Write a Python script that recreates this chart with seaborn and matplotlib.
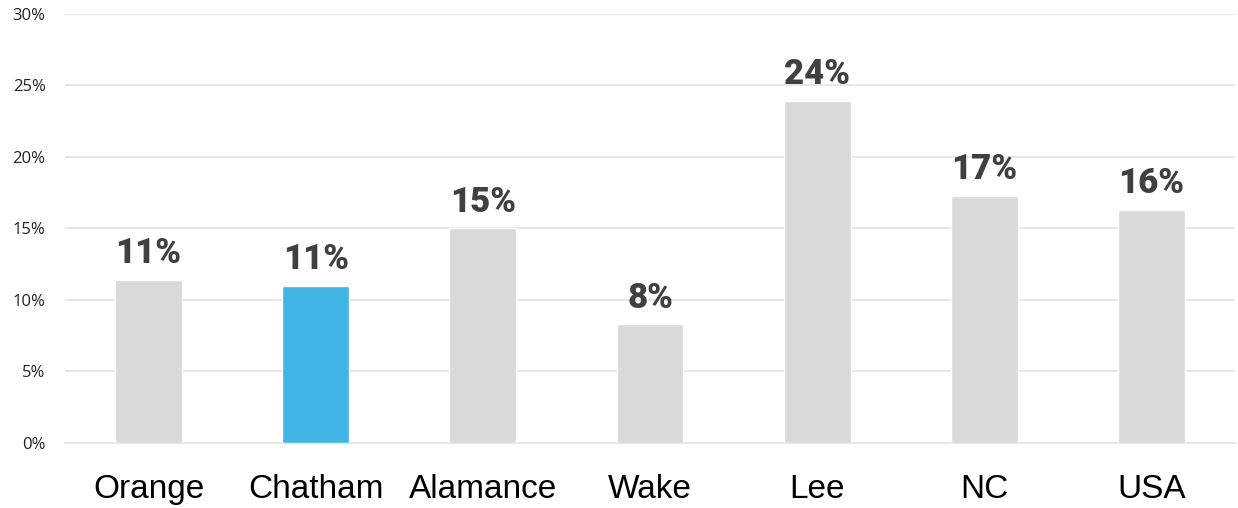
import pandas as pd
import seaborn as sns
import matplotlib.pyplot as plt
from matplotlib.ticker import PercentFormatter

counties = ["Orange", "Chatham", "Alamance", "Wake", "Lee", "NC", "USA"]
rates = [11.4, 11.0, 15.0, 8.3, 23.9, 17.3, 16.3]
labels = ["11%", "11%", "15%", "8%", "24%", "17%", "16%"]
highlight = "Chatham"

GRAY = "#d9d9d9"
BLUE = "#41b6e6"


def main():
    sns.set_theme(style="white")
    df = pd.DataFrame({"county": counties, "rate": rates})
    palette = {c: (BLUE if c == highlight else GRAY) for c in counties}

    fig = plt.figure(figsize=(12.38, 5.08), dpi=100)
    ax = fig.add_axes([0.0525, 0.128, 0.945, 0.8445])
    sns.barplot(data=df, x="county", y="rate", hue="county", palette=palette,
                width=0.4, legend=False, saturation=1, ax=ax, zorder=3)

    ax.set_ylim(0, 30)
    ax.set_xlim(-0.5, len(counties) - 0.5)
    ax.set_yticks(range(0, 31, 5))
    ax.yaxis.set_major_formatter(PercentFormatter(decimals=0))
    ax.grid(axis="y", color="#e3e3e3", linewidth=1.2, zorder=0)
    ax.grid(axis="x", visible=False)
    for s in ["left", "right", "top"]:
        ax.spines[s].set_visible(False)
    ax.spines["bottom"].set_color("#e3e3e3")
    ax.spines["bottom"].set_linewidth(1.2)
    ax.set_xlabel("")
    ax.set_ylabel("")

    ax.tick_params(axis="y", length=0, pad=14, labelsize=12, labelcolor="#222222")
    ax.tick_params(axis="x", length=0, pad=22, labelsize=24, labelcolor="#000000")
    for t in ax.get_yticklabels():
        t.set_family(["Open Sans", "DejaVu Sans"])
    for t in ax.get_xticklabels():
        t.set_family(["Liberation Sans", "DejaVu Sans"])

    for i, (v, lab) in enumerate(zip(rates, labels)):
        ax.annotate(lab, (i, v), xytext=(0, 7), textcoords="offset points",
                    ha="center", va="bottom", fontsize=25, fontweight="black",
                    family=["Roboto", "DejaVu Sans"], color="#404040")

    fig.savefig("out.png", dpi=100, facecolor="white")


if __name__ == "__main__":
    main()
